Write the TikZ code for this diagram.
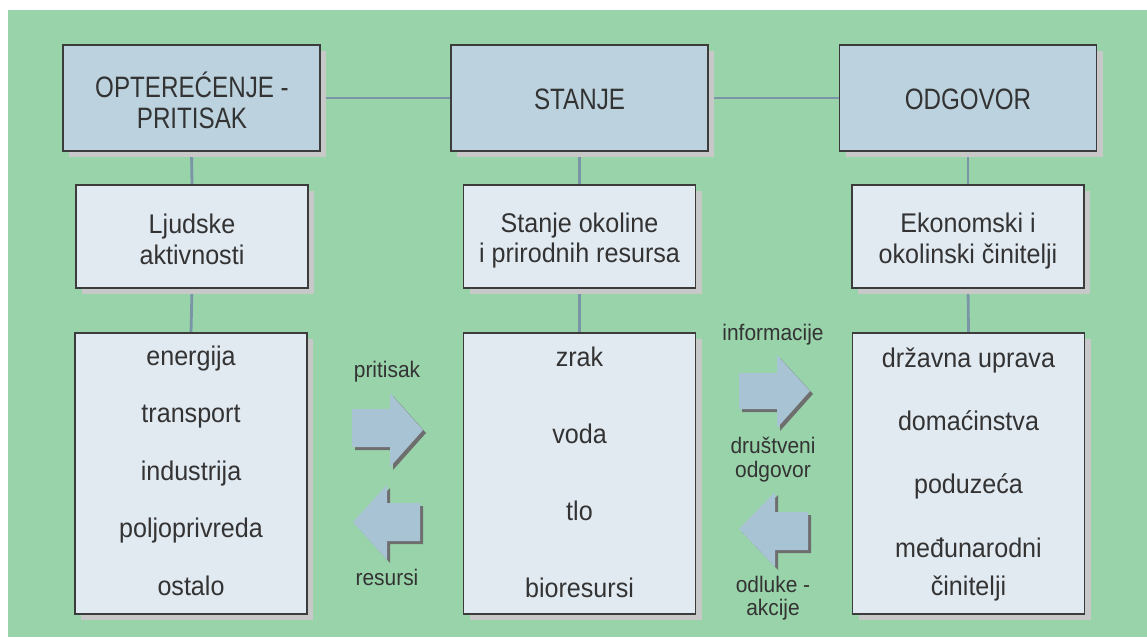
\documentclass[tikz,border=0pt]{standalone}
\usepackage{fontspec}
\setmainfont[FakeStretch=0.93]{Liberation Sans}
\newfontfamily\titlefont[FakeStretch=0.82]{Liberation Sans}
\usetikzlibrary{shadows}
\definecolor{bggreen}{HTML}{99D3AA}
\definecolor{topfill}{HTML}{BCD3DF}
\definecolor{boxfill}{HTML}{E1E9F1}
\definecolor{arrfill}{HTML}{A8C4D4}
\definecolor{conncol}{HTML}{7A95A8}
\definecolor{shadcol}{HTML}{C8C8C8}
\definecolor{arrshad}{HTML}{6E6E6E}
\definecolor{txtcol}{HTML}{333333}
\definecolor{bordcol}{HTML}{3C3C3C}
\pgfdeclarelayer{bg}
\pgfdeclarelayer{back}
\pgfsetlayers{bg,back,main}
\tikzset{
  boxbase/.style={draw=bordcol, line width=1.6pt, inner sep=0pt, outer sep=0pt,
    drop shadow={shadow xshift=6pt, shadow yshift=-6pt, fill=shadcol, opacity=1}},
  topbox/.style={boxbase, fill=topfill, minimum width=257pt, minimum height=106pt},
  midbox/.style={boxbase, fill=boxfill, minimum width=232pt, minimum height=103pt},
  bigbox/.style={boxbase, fill=boxfill, minimum width=232pt, minimum height=281pt},
  conn/.style={draw=conncol, line width=2.8pt},
  ttl/.style={anchor=base, inner sep=0pt, text=txtcol, font=\titlefont\fontsize{29.5}{33}\selectfont},
  txt/.style={anchor=base, inner sep=0pt, text=txtcol, font=\fontsize{27}{31}\selectfont},
  lbl/.style={anchor=base, inner sep=0pt, text=txtcol, font=\fontsize{22.5}{25}\selectfont},
  arrbody/.style={fill=arrfill},
  arrshadow/.style={fill=arrshad}
}
\begin{document}
\begin{tikzpicture}[x=1pt,y=-1pt]
\useasboundingbox (0,0) rectangle (1147,637);
\begin{pgfonlayer}{bg}
\fill[white] (0,0) rectangle (1147,637);
\fill[bggreen] (8,10) rectangle (1147,637);
\end{pgfonlayer}

% boxes
\node[topbox] (T1) at (191.5,98) {};
\node[topbox] (T2) at (579.5,98) {};
\node[topbox] (T3) at (968,98) {};
\node[midbox] (M1) at (192,236.5) {};
\node[midbox] (M2) at (579.5,236.5) {};
\node[midbox] (M3) at (968,236.5) {};
\node[bigbox] (B1) at (191,473.5) {};
\node[bigbox] (B2) at (579.5,473.5) {};
\node[bigbox] (B3) at (968.5,473.5) {};

% connectors
\begin{pgfonlayer}{back}
\draw[conn] (T1.east) -- (T2.west);
\draw[conn] (T2.east) -- (T3.west);
\draw[conn] (T1.south) -- (M1.north);
\draw[conn] (T2.south) -- (M2.north);
\draw[conn] (T3.south) -- (M3.north);
\draw[conn] (M1.south) -- (B1.north);
\draw[conn] (M2.south) -- (B2.north);
\draw[conn] (M3.south) -- (B3.north);
\end{pgfonlayer}

% title texts
\node[ttl] (t1a) at (192,97) {OPTEREĆENJE -};
\node[ttl] (t1b) at (192,128) {PRITISAK};
\node[ttl] (t2) at (579.5,109) {STANJE};
\node[ttl] (t3) at (968,109) {ODGOVOR};

% middle texts
\node[txt] (m1a) at (192,233) {Ljudske};
\node[txt] (m1b) at (192,264) {aktivnosti};
\node[txt] (m2a) at (579.5,232) {Stanje okoline};
\node[txt] (m2b) at (579.5,262) {i prirodnih resursa};
\node[txt] (m3a) at (968,232) {Ekonomski i};
\node[txt] (m3b) at (968,263) {okolinski činitelji};

% left list
\node[txt] (l1) at (191,365) {energija};
\node[txt] (l2) at (191,422.5) {transport};
\node[txt] (l3) at (191,480) {industrija};
\node[txt] (l4) at (191,537.5) {poljoprivreda};
\node[txt] (l5) at (191,595) {ostalo};

% middle list
\node[txt] (c1) at (579.5,366) {zrak};
\node[txt] (c2) at (579.5,443) {voda};
\node[txt] (c3) at (579.5,520) {tlo};
\node[txt] (c4) at (579.5,597) {bioresursi};

% right list
\node[txt] (r1) at (968.5,367) {državna uprava};
\node[txt] (r2) at (968.5,430) {domaćinstva};
\node[txt] (r3) at (968.5,493) {poduzeća};
\node[txt] (r4) at (968.5,557) {međunarodni};
\node[txt] (r5) at (968.5,595) {činitelji};

% arrows
\fill[arrshadow] (355,412) -- (393,412) -- (393,396) -- (426,433) -- (393,470) -- (393,450) -- (355,450) -- cycle;
\fill[arrbody] (352,409) -- (390,409) -- (390,393) -- (423,430) -- (390,467) -- (390,447) -- (352,447) -- cycle;

\fill[arrshadow] (423,506) -- (390,506) -- (390,488) -- (356,525) -- (390,563) -- (390,544) -- (423,544) -- cycle;
\fill[arrbody] (420,503) -- (387,503) -- (387,485) -- (353,522) -- (387,560) -- (387,541) -- (420,541) -- cycle;

\fill[arrshadow] (742,376) -- (780,376) -- (780,358) -- (813,394) -- (780,431) -- (780,412) -- (742,412) -- cycle;
\fill[arrbody] (739,373) -- (777,373) -- (777,355) -- (810,391) -- (777,428) -- (777,409) -- (739,409) -- cycle;

\fill[arrshadow] (811,515) -- (778,515) -- (778,495) -- (742,532) -- (778,570) -- (778,553) -- (811,553) -- cycle;
\fill[arrbody] (808,512) -- (775,512) -- (775,492) -- (739,529) -- (775,567) -- (775,550) -- (808,550) -- cycle;

% arrow labels
\node[lbl] (a1) at (387,377) {pritisak};
\node[lbl] (a2) at (387,585) {resursi};
\node[lbl] (a3) at (773,340) {informacije};
\node[lbl] (a4) at (773,453) {društveni};
\node[lbl] (a5) at (773,477) {odgovor};
\node[lbl] (a6) at (773,592) {odluke -};
\node[lbl] (a7) at (773,615) {akcije};
\end{tikzpicture}
\end{document}
